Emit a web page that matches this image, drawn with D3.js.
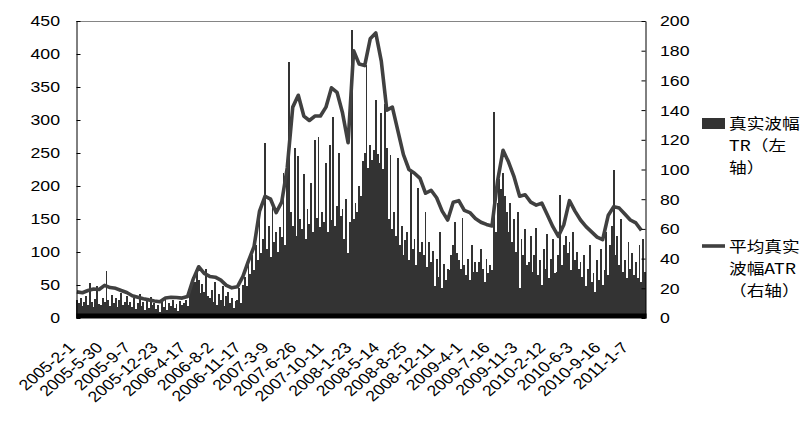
<!DOCTYPE html>
<html><head><meta charset="utf-8">
<script src="https://cdn.jsdelivr.net/npm/d3@7"></script>
<style>html,body{margin:0;padding:0;background:#fff;}svg{display:block;}</style>
</head><body>
<svg id="chart" width="811" height="428"></svg>
<script>
// TR (left axis), one value per bar
const trValues = [
28,22,30,18,25,33,20,53,24,17,29,48,21,19,
31,24,71,27,18,35,22,30,16,28,38,20,25,33,19,
24,17,30,13,22,36,18,25,12,28,15,32,19,23,
14,20,9,25,17,30,12,22,18,27,15,21,11,26,19,
22,28,18,35,48,62,55,70,58,38,52,40,75,33,
30,42,25,55,20,36,28,48,18,33,40,22,30,15,26,
28,45,22,50,62,48,80,66,95,72,110,88,156,98,
120,265,105,140,92,168,115,130,100,138,122,220,110,228,
388,160,140,258,125,245,150,135,218,120,165,142,205,130,270,
152,275,138,160,145,235,130,262,148,305,140,170,250,155,
165,120,180,98,145,436,150,175,160,200,185,238,250,383,228,
262,240,255,330,248,235,310,226,325,257,150,247,135,160,
125,242,110,140,95,118,130,88,221,105,120,80,197,100,115,
95,160,78,115,85,102,48,90,62,130,45,82,58,75,
72,95,110,145,98,88,75,151,80,65,90,58,110,70,85,
70,85,105,75,55,90,68,80,72,312,130,175,210,195,
220,185,160,130,175,115,150,100,160,45,120,95,135,80,
85,125,70,95,137,65,88,50,105,75,128,60,90,120,68,
70,95,186,80,110,125,98,115,72,130,88,100,75,85,
62,95,48,75,110,55,68,40,88,58,105,50,72,130,65,
110,140,224,95,125,80,150,70,88,60,115,75,98,65,
85,60,110,55,120,70
];
// ATR (right axis), one value per 3 bars
const atrValues = [
17.6,17,18.5,19.5,19.2,22,20.5,20,18.5,17.2,
15,14,13,12.2,11.5,11,13.5,14,13.8,13.4,
14.5,26,34.5,30,28,27.5,25.5,22,20.3,21,
28,38.5,48,72,82,80,71,78,101,142,
150,136,133,136,136,142,155,152,138,118,
180,171,170,188,192,173,140,142,126,110,
100,97.5,94,84,86,81,72,66,78,79,
72.5,71,67,64.5,63,62,92,113,105,95,
82,83,78,76,77.4,69.5,61.5,55,63,79,
72,66,61.5,58,54.5,52.7,69,75,74,70,
66,64,59
];
const atrStep = 3;
const dateLabels = ["2005-2-1","2005-5-30","2005-9-7","2005-12-23","2006-4-17","2006-8-2","2006-11-17","2007-3-9","2007-6-26","2007-10-11","2008-1-23","2008-5-14","2008-8-25","2008-12-11","2009-4-1","2009-7-16","2009-11-3","2010-2-12","2010-6-3","2010-9-16","2011-1-7"];
const labelStep = 15;
const leftTicks = [0,50,100,150,200,250,300,350,400,450];
const rightTicks = [0,20,40,60,80,100,120,140,160,180,200];
const legendTR = ["真实波幅","TR（左","轴）"];
const legendATR = ["平均真实","波幅ATR","（右轴）"];

const L = 76, R = 646, T = 21, B = 318;
const SX = 1.18;
const svg = d3.select("#chart");
const x = d3.scaleBand().domain(d3.range(trValues.length)).range([L, R]).padding(0);
const yL = d3.scaleLinear().domain([0, 450]).range([B, T]);
const yR = d3.scaleLinear().domain([0, 200]).range([B, T]);
const numFont = "'Liberation Sans', Arial, sans-serif";
const cjkFont = "'Noto Sans CJK SC', sans-serif";

// top border
svg.append("line").attr("x1", L).attr("x2", R).attr("y1", T + 0.5).attr("y2", T + 0.5)
  .attr("stroke", "#858585").attr("stroke-width", 1);

// bars
svg.append("g").attr("shape-rendering", "crispEdges")
  .selectAll("rect").data(trValues).join("rect")
  .attr("x", (d, i) => x(i)).attr("width", x.bandwidth())
  .attr("y", d => yL(d)).attr("height", d => yL(0) - yL(d))
  .attr("fill", "#333333");

// ATR line
const line = d3.line()
  .x((d, k) => x(k * atrStep) + x.bandwidth() / 2)
  .y(d => yR(d));
svg.append("path").datum(atrValues).attr("d", line)
  .attr("fill", "none").attr("stroke", "#404040").attr("stroke-width", 3.6)
  .attr("stroke-linejoin", "round");

// axes
const gl = svg.append("g").attr("transform", `translate(${L + 0.5},0)`)
  .call(d3.axisLeft(yL).tickValues(leftTicks).tickSize(-4).tickSizeOuter(0).tickFormat(""));
const gr = svg.append("g").attr("transform", `translate(${R - 0.5},0)`)
  .call(d3.axisRight(yR).tickValues(rightTicks).tickSize(-4).tickSizeOuter(0).tickFormat(""));
[gl, gr].forEach(g => { g.selectAll("path,line").attr("stroke", "#000"); });

const gx = svg.append("g").attr("transform", `translate(0,${B - 2.6})`)
  .call(d3.axisBottom(x).tickValues([]).tickSizeOuter(0));
gx.select(".domain").attr("stroke", "#000").attr("stroke-width", 5);

// tick labels
svg.append("g").selectAll("text").data(leftTicks).join("text")
  .attr("transform", d => `translate(60,${yL(d)}) scale(${SX},1)`)
  .attr("text-anchor", "end").attr("dy", "0.36em")
  .attr("font-family", numFont).attr("font-size", 15).attr("fill", "#000")
  .text(d => d);
svg.append("g").selectAll("text").data(rightTicks).join("text")
  .attr("transform", d => `translate(660,${yR(d)}) scale(${SX},1)`)
  .attr("text-anchor", "start").attr("dy", "0.36em")
  .attr("font-family", numFont).attr("font-size", 15).attr("fill", "#000")
  .text(d => d);
svg.append("g").selectAll("text").data(dateLabels).join("text")
  .attr("transform", (d, i) => `translate(${x(i * labelStep) + x.bandwidth() / 2 - 5.3},345) scale(${SX},1) rotate(-45)`)
  .attr("text-anchor", "end").attr("dy", "0.35em")
  .attr("font-family", numFont).attr("font-size", 15).attr("fill", "#000")
  .text(d => d);

// legend
svg.append("rect").attr("x", 702).attr("y", 118).attr("width", 23).attr("height", 11).attr("fill", "#333333");
svg.append("line").attr("x1", 702).attr("x2", 725).attr("y1", 246).attr("y2", 246)
  .attr("stroke", "#404040").attr("stroke-width", 3.6);
svg.append("g").selectAll("text").data(legendTR).join("text")
  .attr("transform", (d, i) => `translate(729,${124 + i * 22}) scale(${SX},1)`)
  .attr("dy", "0.36em").attr("font-family", cjkFont).attr("font-size", 15).attr("fill", "#000")
  .text(d => d);
svg.append("g").selectAll("text").data(legendATR).join("text")
  .attr("transform", (d, i) => `translate(729,${247 + i * 22}) scale(${SX},1)`)
  .attr("dy", "0.36em").attr("font-family", cjkFont).attr("font-size", 15).attr("fill", "#000")
  .text(d => d);
</script>
</body></html>
